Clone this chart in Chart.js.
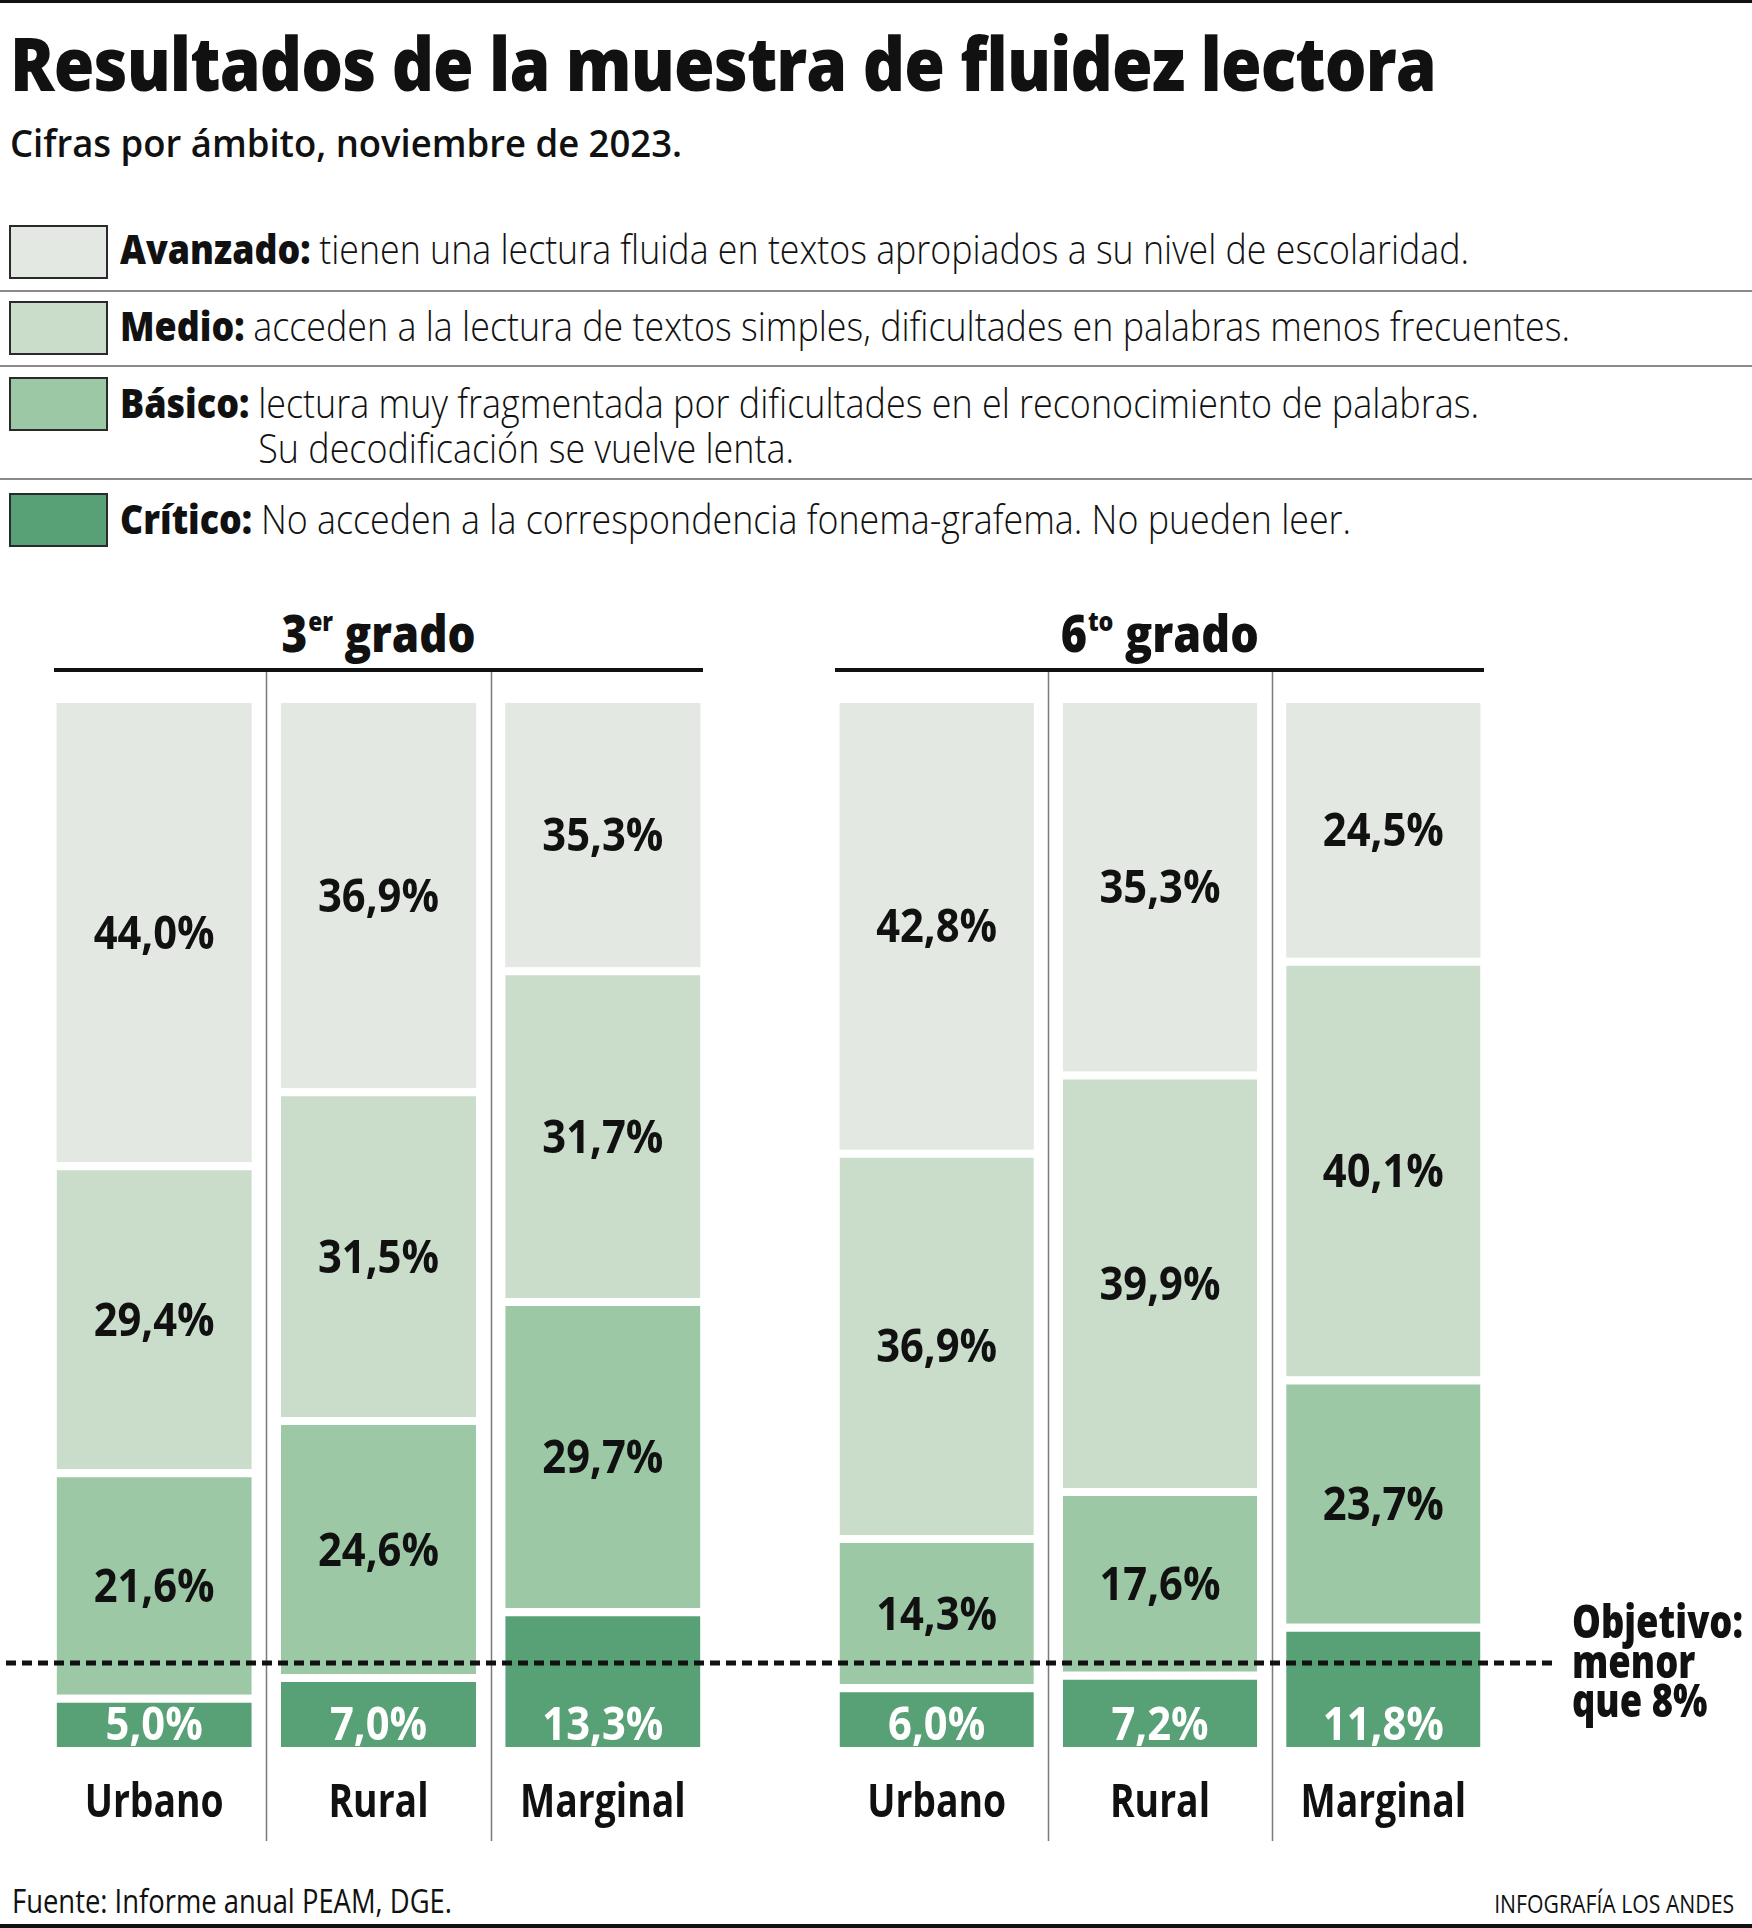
<!DOCTYPE html>
<html lang="es">
<head>
<meta charset="utf-8">
<script src="https://cdn.jsdelivr.net/npm/chart.js@4.4.1/dist/chart.umd.min.js"></script>
<style>
  html, body { margin: 0; padding: 0; background: #fff; }
  body {
    width: 1752px; height: 1928px; position: relative; overflow: hidden;
    font-family: "Open Sans", "Noto Sans", "DejaVu Sans Condensed", sans-serif;
    color: #111;
  }
  .abs { position: absolute; white-space: nowrap; }
  .fit { display: inline-block; white-space: nowrap; transform-origin: 0 0; }
  .rule { position: absolute; left: 0; width: 1752px; background: #111; }
  .sep { position: absolute; left: 0; width: 1752px; height: 2px; background: #8a8a8a; }
  #title { left: 10px; top: 26px; font-size: 74px; line-height: 74px; font-weight: 800; letter-spacing: -1px; }
  #subtitle { left: 10px; top: 123px; font-size: 38px; line-height: 38px; font-weight: 600; }
  .swatch { position: absolute; left: 9px; width: 95px; height: 50px; border: 2px solid #2a2a2a; }
  .legrow { position: absolute; left: 120px; }
  .legrow .fit { display: inline-flex; font-size: 41px; line-height: 45px; }
  .legrow b { font-weight: 800; margin-right: 10px; }
  .legrow span { font-weight: 300; }
  .ghead { position: absolute; top: 606px; width: 649px; text-align: center; font-size: 52px; line-height: 52px; font-weight: 800; }
  .ghead .fit { transform-origin: 50% 0; }
  .ghead sup { font-size: 27px; line-height: 0; vertical-align: 0; position: relative; top: -21px; margin-left: 1px; }
  .gline { position: absolute; top: 668px; width: 649px; height: 4px; background: #111; }
  .chartbox { position: absolute; top: 672px; }
  #source { left: 12px; top: 1885px; font-size: 32px; line-height: 32px; font-weight: 400; }
  #credit { right: 18px; top: 1890px; font-size: 26px; line-height: 26px; font-weight: 400; }
  #credit .fit { transform-origin: 100% 0; }
</style>
</head>
<body>
<div class="rule" style="top:0;height:3px"></div>
<div id="title" class="abs"><span class="fit" data-w="1426">Resultados de la muestra de fluidez lectora</span></div>
<div id="subtitle" class="abs"><span class="fit" data-w="672">Cifras por ámbito, noviembre de 2023.</span></div>

<div id="legend"></div>

<div class="ghead" style="left:54px"><span class="fit" data-w="194">3<sup>er</sup> grado</span></div>
<div class="gline" style="left:54px"></div>
<div class="ghead" style="left:835px"><span class="fit" data-w="198">6<sup>to</sup> grado</span></div>
<div class="gline" style="left:835px"></div>

<div class="chartbox" style="left:0"><canvas id="c3" width="780" height="1169"></canvas></div>
<div class="chartbox" style="left:780px"><canvas id="c6" width="972" height="1169"></canvas></div>

<div id="source" class="abs"><span class="fit" data-w="440">Fuente: Informe anual PEAM, DGE.</span></div>
<div id="credit" class="abs"><span class="fit" data-w="240">INFOGRAFÍA LOS ANDES</span></div>
<div class="rule" style="top:1924px;height:4px"></div>

<script>
// ---------------- DATA ----------------
const categories = ['Urbano', 'Rural', 'Marginal'];
const levelNames = ['Avanzado', 'Medio', 'Básico', 'Crítico'];
const levelDescriptions = [
  'tienen una lectura fluida en textos apropiados a su nivel de escolaridad.',
  'acceden a la lectura de textos simples, dificultades en palabras menos frecuentes.',
  'lectura muy fragmentada por dificultades en el reconocimiento de palabras.<br>Su decodificación se vuelve lenta.',
  'No acceden a la correspondencia fonema-grafema. No pueden leer.'
];
const levelColors = ['#e3e8e2', '#c9ddca', '#9cc8a6', '#58a075'];

// 3er grado (percent per level, as printed)
const avanzado3 = [44.0, 36.9, 35.3];
const medio3    = [29.4, 31.5, 31.7];
const basico3   = [21.6, 24.6, 29.7];
const critico3  = [5.0, 7.0, 13.3];
// 6to grado
const avanzado6 = [42.8, 35.3, 24.5];
const medio6    = [36.9, 39.9, 40.1];
const basico6   = [14.3, 17.6, 23.7];
const critico6  = [6.0, 7.2, 11.8];

const objetivo = 8; // target: "menor que 8%"
const objetivoLines = ['Objetivo:', 'menor', 'que 8%'];

// ---------------- LEGEND (HTML) ----------------
(function buildLegend() {
  const swTops = [225, 301, 377, 493];
  const txtTops = [226, 303, 380, 496];
  const rowWidths = [1349, 1450, 1359, 1231];
  const seps = [290, 365, 478];
  const host = document.getElementById('legend');
  let html = '';
  levelNames.forEach((n, i) => {
    html += `<div class="swatch" style="top:${swTops[i]}px;background:${levelColors[i]}"></div>`;
    html += `<div class="legrow" style="top:${txtTops[i]}px"><div class="fit" data-w="${rowWidths[i]}"><b>${n}:</b><span>${levelDescriptions[i]}</span></div></div>`;
  });
  seps.forEach(y => { html += `<div class="sep" style="top:${y}px"></div>`; });
  host.innerHTML = html;
})();

function fitHtml() {
  document.querySelectorAll('.fit[data-w]').forEach(el => {
    const w = el.getBoundingClientRect().width;
    const target = +el.dataset.w;
    if (w > 0) el.style.transform = `scaleX(${(target / w).toFixed(4)})`;
  });
}

// ---------------- CHARTS ----------------
const FONT = '"Open Sans", "Noto Sans", "DejaVu Sans Condensed", sans-serif';
const fmt = v => v.toFixed(1).replace('.', ',') + '%';
const GAP = 8;

function squeezeFor(ctx, font, sample, target) {
  ctx.font = font;
  return target / ctx.measureText(sample).width;
}
function drawSqueezed(ctx, text, x, y, sx) {
  ctx.save();
  ctx.translate(x, y);
  ctx.scale(sx, 1);
  ctx.fillText(text, 0, 0);
  ctx.restore();
}

const segmentPlugin = {
  id: 'segments',
  beforeDatasetsDraw(chart) {
    const ctx = chart.ctx, xs = chart.scales.x;
    ctx.save();
    ctx.strokeStyle = '#7a7a7a';
    ctx.lineWidth = 1.5;
    for (let i = 0; i < categories.length - 1; i++) {
      const x = Math.round((xs.getPixelForValue(i) + xs.getPixelForValue(i + 1)) / 2) + 0.5;
      ctx.beginPath();
      ctx.moveTo(x, 0);
      ctx.lineTo(x, chart.height);
      ctx.stroke();
    }
    ctx.restore();
  },
  afterDatasetsDraw(chart, args, opts) {
    const ctx = chart.ctx, area = chart.chartArea, ys = chart.scales.y, xs = chart.scales.x;
    ctx.save();
    // value labels
    const vFont = `700 47px ${FONT}`;
    const vs = squeezeFor(ctx, vFont, '36,9%', 121);
    ctx.font = vFont;
    ctx.textAlign = 'center';
    ctx.textBaseline = 'alphabetic';
    chart.data.datasets.forEach((ds, di) => {
      const meta = chart.getDatasetMeta(di);
      meta.data.forEach((bar, i) => {
        const top = Math.max(bar.y, area.top) + (ds.gapTop || 0);
        const bottom = bar.base;
        const y = ds.bottomLabel ? bottom - 7 : (top + bottom) / 2 + 16;
        ctx.fillStyle = ds.labelColor;
        drawSqueezed(ctx, fmt(ds.data[i]), bar.x, y, vs);
      });
    });
    // category labels
    const cFont = `700 46px ${FONT}`;
    const cs = squeezeFor(ctx, cFont, 'Urbano', 139);
    ctx.font = cFont;
    ctx.fillStyle = '#111';
    categories.forEach((c, i) => drawSqueezed(ctx, c, xs.getPixelForValue(i), area.bottom + 70, cs));
    // target dashed line
    const y = Math.round(ys.getPixelForValue(objetivo));
    ctx.strokeStyle = '#111';
    ctx.lineWidth = 5;
    ctx.setLineDash([10, 6]);
    ctx.lineDashOffset = opts.dashOffset || 0;
    ctx.beginPath();
    ctx.moveTo(opts.lineFrom, y);
    ctx.lineTo(opts.lineTo, y);
    ctx.stroke();
    ctx.setLineDash([]);
    if (opts.note) {
      const oFont = `800 46px ${FONT}`;
      const os = squeezeFor(ctx, oFont, objetivoLines[0], 171);
      ctx.font = oFont;
      ctx.textAlign = 'left';
      const offs = [-25, 15, 54];
      objetivoLines.forEach((t, k) => drawSqueezed(ctx, t, opts.noteX, y + offs[k], os));
    }
    ctx.restore();
  }
};

function makeChart(id, av, me, ba, cr, pad, lineOpts) {
  const mk = (label, data, color, labelColor, gapTop, bottomLabel) => ({
    label, data,
    backgroundColor: color,
    borderColor: '#ffffff',
    borderWidth: { top: gapTop, bottom: 0, left: 0, right: 0 },
    borderSkipped: false,
    gapTop, labelColor, bottomLabel,
    clip: 0,            // bars are cut at the 100% frame, as in the printed graphic
    barPercentage: 0.87,
    categoryPercentage: 1.0
  });
  return new Chart(document.getElementById(id), {
    type: 'bar',
    data: {
      labels: categories,
      datasets: [
        mk(levelNames[3], cr, levelColors[3], '#ffffff', GAP, true),
        mk(levelNames[2], ba, levelColors[2], '#111111', GAP, false),
        mk(levelNames[1], me, levelColors[1], '#111111', GAP, false),
        mk(levelNames[0], av, levelColors[0], '#111111', 0, false)
      ]
    },
    options: {
      responsive: false,
      devicePixelRatio: 1,
      animation: false,
      events: [],
      layout: { padding: pad },
      plugins: { legend: { display: false }, tooltip: { enabled: false }, segments: lineOpts },
      scales: {
        x: { stacked: true, display: false },
        y: { stacked: true, display: false, min: 0, max: 100 }
      }
    },
    plugins: [segmentPlugin]
  });
}

function buildAll() {
  fitHtml();
  makeChart('c3', avanzado3, medio3, basico3, critico3,
    { top: 31, bottom: 94, left: 42, right: 65 },
    { lineFrom: 6, lineTo: 780, dashOffset: 0 });
  makeChart('c6', avanzado6, medio6, basico6, critico6,
    { top: 31, bottom: 94, left: 45, right: 257 },
    { lineFrom: 0, lineTo: 775, dashOffset: 774 % 16, note: true, noteX: 792 });
}
if (document.fonts && document.fonts.ready) document.fonts.ready.then(buildAll); else buildAll();
</script>
</body>
</html>
